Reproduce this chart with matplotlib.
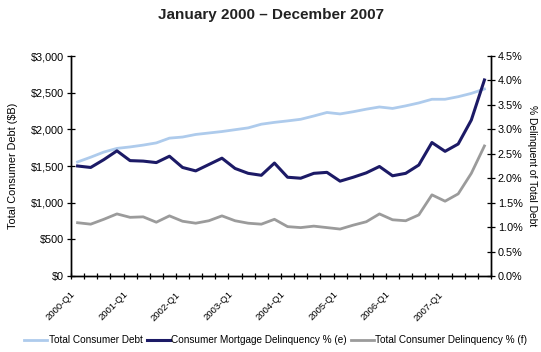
import numpy as np
import matplotlib
matplotlib.use("Agg")
import matplotlib.pyplot as plt
from matplotlib.transforms import ScaledTranslation

plt.rcParams['font.family'] = ['Liberation Sans', 'DejaVu Sans']

# quarterly data 2000-Q1 .. 2007-Q4
quarters = [f"{y}-Q{q}" for y in range(2000, 2008) for q in range(1, 5)]

total_debt = [1555, 1620, 1690, 1740, 1760, 1785, 1815, 1880,
              1895, 1930, 1950, 1970, 1995, 2020, 2070, 2095,
              2115, 2137, 2182, 2230, 2210, 2240, 2275, 2305,
              2285, 2320, 2360, 2410, 2410, 2445, 2490, 2550]

mortgage_delinq = [2.25, 2.22, 2.38, 2.56, 2.36, 2.35, 2.32, 2.45,
                   2.22, 2.15, 2.28, 2.41, 2.20, 2.10, 2.06, 2.31,
                   2.02, 2.00, 2.10, 2.12, 1.94, 2.02, 2.11, 2.24,
                   2.05, 2.10, 2.27, 2.73, 2.55, 2.70, 3.19, 4.01]

consumer_delinq = [1.09, 1.06, 1.16, 1.27, 1.20, 1.21, 1.10, 1.23,
                   1.12, 1.08, 1.13, 1.23, 1.13, 1.08, 1.06, 1.16,
                   1.01, 0.99, 1.02, 0.99, 0.96, 1.04, 1.11, 1.27,
                   1.15, 1.13, 1.25, 1.66, 1.53, 1.68, 2.10, 2.66]

left_ticks = [0, 500, 1000, 1500, 2000, 2500, 3000]
right_ticks = [0, 0.5, 1.0, 1.5, 2.0, 2.5, 3.0, 3.5, 4.0, 4.5]

c_light = '#aecbec'
c_dark = '#1c1a66'
c_gray = '#9b9b9b'

fig = plt.figure(figsize=(5.41, 3.52), dpi=100)
ax = fig.add_axes([71 / 541, 1 - 276 / 352, 420 / 541, 220 / 352])
ax2 = ax.twinx()

x = np.arange(len(quarters))
l1, = ax.plot(x, total_debt, color=c_light, lw=2.0)
l2, = ax2.plot(x, mortgage_delinq, color=c_dark, lw=2.2)
l3, = ax2.plot(x, consumer_delinq, color=c_gray, lw=2.0)

ax.set_xlim(-0.5, len(quarters) - 0.5)
ax.set_ylim(0, 3000)
ax2.set_ylim(0, 4.5)

ax.set_yticks(left_ticks)
ax.set_yticklabels([f"${v:,}" for v in left_ticks])
ax2.set_yticks(right_ticks)
ax2.set_yticklabels([f"{v:.1f}%" for v in right_ticks])

# tick marks at category boundaries, labels on each Q1
ax.set_xticks(np.arange(-0.5, len(quarters), 1.0))
ax.set_xticklabels([])
q1 = [i for i, q in enumerate(quarters) if q.endswith("Q1")]
ax.set_xticks(q1, minor=True)
ax.set_xticklabels([quarters[i] for i in q1], minor=True, rotation=45,
                   ha='right', va='top', rotation_mode='anchor', fontsize=6.8)
ax.tick_params(axis='x', which='minor', length=0, pad=10)
ax.tick_params(axis='x', which='major', direction='inout', length=5, width=0.9)
shift = ScaledTranslation(-7 / 100, 0, fig.dpi_scale_trans)
for lab in ax.get_xticklabels(minor=True):
    lab.set_transform(lab.get_transform() + shift)

for a in (ax, ax2):
    a.spines['top'].set_visible(False)
    for s in ('left', 'right', 'bottom'):
        a.spines[s].set_linewidth(1.0)
        a.spines[s].set_color('black')
ax.tick_params(axis='y', direction='inout', length=6, width=0.9, labelsize=7.8, pad=2)
ax2.tick_params(axis='y', direction='inout', length=6, width=0.9, labelsize=7.8, pad=2)

ax.set_ylabel("Total Consumer Debt ($B)", fontsize=7.8)
ax.yaxis.set_label_coords(-53 / 420, 0.5)
ax2.set_ylabel("% Delinquent of Total Debt", fontsize=7.4, rotation=270, va='center')
ax2.yaxis.set_label_coords(461 / 420, 0.5)

fig.text(0.5, 1 - 15 / 352, "January 2000 \u2013 December 2007", ha='center', va='center',
         fontsize=11, fontweight='bold', color='#222222')

fig.legend([l1, l2, l3],
           ["Total Consumer Debt", "Consumer Mortgage Delinquency % (e)",
            "Total Consumer Delinquency % (f)"],
           loc='center', bbox_to_anchor=(0.51, 1 - 340 / 352), ncol=3, frameon=False,
           fontsize=7.2, handlelength=2.3, handletextpad=0.15, columnspacing=0.4)

fig.savefig("out.png", dpi=100)
